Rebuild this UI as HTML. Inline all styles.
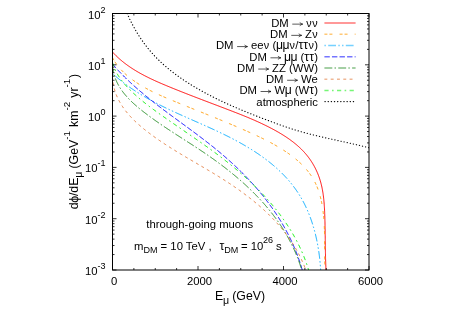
<!DOCTYPE html>
<html><head><meta charset="utf-8"><title>plot</title>
<style>html,body{margin:0;padding:0;background:#fff;width:450px;height:315px;overflow:hidden}
svg{position:absolute;left:0;top:0;font-family:"Liberation Sans",sans-serif;will-change:transform;transform:translateZ(0)}
text{fill:#000;white-space:pre}</style>
</head><body>
<svg width="450" height="315" viewBox="0 0 450 315">
<rect x="0" y="0" width="450" height="315" fill="#ffffff"/>
<defs><clipPath id="c"><rect x="112.5" y="13.5" width="256.5" height="256.5"/></clipPath></defs>
<g clip-path="url(#c)" fill="none" stroke-linecap="butt" stroke-linejoin="round">
<path d="M112.49,52.01 L113.07,52.65 L113.66,53.28 L114.25,53.90 L114.85,54.51 L115.45,55.12 L116.06,55.72 L116.67,56.31 L117.29,56.90 L117.91,57.48 L118.54,58.06 L119.17,58.63 L119.81,59.19 L120.45,59.75 L121.10,60.30 L121.75,60.84 L122.40,61.38 L123.06,61.92 L123.72,62.44 L124.39,62.97 L125.06,63.48 L125.74,63.99 L126.42,64.50 L127.10,65.00 L127.79,65.49 L128.48,65.98 L129.17,66.47 L129.87,66.95 L130.57,67.42 L131.28,67.89 L131.99,68.36 L132.70,68.82 L133.42,69.28 L134.13,69.73 L134.86,70.18 L135.58,70.62 L136.31,71.06 L137.04,71.49 L137.77,71.92 L138.51,72.35 L139.25,72.77 L139.99,73.19 L140.74,73.60 L141.49,74.01 L142.24,74.42 L142.99,74.82 L143.74,75.22 L144.50,75.62 L145.26,76.01 L146.02,76.40 L146.79,76.79 L147.55,77.17 L148.32,77.56 L149.09,77.93 L149.86,78.31 L150.64,78.68 L151.41,79.05 L152.19,79.41 L152.97,79.78 L153.75,80.14 L154.53,80.50 L155.31,80.86 L156.10,81.21 L156.88,81.56 L157.67,81.91 L158.46,82.26 L159.24,82.61 L160.03,82.95 L160.82,83.29 L161.62,83.63 L162.41,83.97 L163.20,84.31 L164.00,84.64 L164.79,84.98 L165.59,85.31 L166.38,85.64 L167.18,85.97 L167.97,86.30 L168.77,86.63 L169.57,86.96 L170.36,87.29 L171.16,87.61 L171.96,87.94 L172.76,88.26 L173.55,88.58 L174.35,88.91 L175.15,89.23 L175.95,89.55 L176.74,89.87 L177.54,90.19 L178.34,90.51 L179.14,90.83 L179.93,91.14 L180.73,91.46 L181.53,91.78 L182.33,92.09 L183.13,92.41 L183.92,92.72 L184.72,93.04 L185.52,93.35 L186.32,93.66 L187.12,93.97 L187.91,94.28 L188.71,94.60 L189.51,94.91 L190.31,95.22 L191.11,95.53 L191.90,95.83 L192.70,96.14 L193.50,96.45 L194.30,96.76 L195.10,97.07 L195.89,97.37 L196.69,97.68 L197.49,97.99 L198.29,98.29 L199.09,98.60 L199.88,98.90 L200.68,99.21 L201.48,99.51 L202.27,99.82 L203.07,100.12 L203.87,100.42 L204.67,100.73 L205.46,101.03 L206.26,101.33 L207.06,101.64 L207.85,101.94 L208.65,102.24 L209.45,102.55 L210.24,102.85 L211.04,103.15 L211.83,103.45 L212.63,103.75 L213.43,104.06 L214.22,104.36 L215.02,104.66 L215.81,104.96 L216.61,105.26 L217.40,105.57 L218.20,105.87 L218.99,106.17 L219.79,106.47 L220.58,106.77 L221.37,107.08 L222.17,107.38 L222.96,107.68 L223.75,107.98 L224.55,108.29 L225.34,108.59 L226.13,108.89 L226.92,109.19 L227.72,109.50 L228.51,109.80 L229.30,110.10 L230.09,110.41 L230.88,110.71 L231.67,111.02 L232.46,111.32 L233.25,111.63 L234.04,111.93 L234.83,112.24 L235.62,112.55 L236.41,112.85 L237.20,113.16 L237.99,113.47 L238.78,113.78 L239.57,114.10 L240.35,114.41 L241.14,114.72 L241.93,115.04 L242.72,115.35 L243.50,115.67 L244.29,115.99 L245.07,116.31 L245.86,116.63 L246.64,116.95 L247.43,117.28 L248.21,117.60 L249.00,117.93 L249.78,118.26 L250.56,118.59 L251.35,118.93 L252.13,119.26 L252.91,119.60 L253.69,119.94 L254.47,120.28 L255.25,120.63 L256.03,120.97 L256.81,121.32 L257.59,121.67 L258.37,122.02 L259.15,122.38 L259.93,122.74 L260.71,123.10 L261.49,123.46 L262.26,123.83 L263.04,124.20 L263.82,124.57 L264.59,124.95 L265.37,125.32 L266.14,125.70 L266.92,126.09 L267.69,126.48 L268.46,126.87 L269.23,127.26 L270.01,127.66 L270.78,128.06 L271.55,128.46 L272.32,128.87 L273.09,129.28 L273.86,129.70 L274.62,130.11 L275.39,130.54 L276.15,130.96 L276.92,131.39 L277.68,131.83 L278.44,132.26 L279.19,132.70 L279.95,133.15 L280.70,133.60 L281.45,134.05 L282.19,134.51 L282.94,134.97 L283.68,135.44 L284.41,135.91 L285.15,136.38 L285.88,136.86 L286.60,137.35 L287.33,137.83 L288.04,138.33 L288.76,138.82 L289.47,139.32 L290.17,139.83 L290.88,140.34 L291.57,140.86 L292.26,141.38 L292.95,141.90 L293.63,142.43 L294.31,142.97 L294.98,143.51 L295.64,144.05 L296.30,144.60 L296.96,145.16 L297.60,145.72 L298.24,146.29 L298.88,146.86 L299.51,147.43 L300.13,148.02 L300.74,148.60 L301.35,149.20 L301.95,149.79 L302.54,150.40 L303.13,151.01 L303.71,151.62 L304.28,152.24 L304.84,152.87 L305.39,153.50 L305.94,154.14 L306.48,154.79 L307.01,155.43 L307.53,156.09 L308.04,156.75 L308.55,157.41 L309.05,158.09 L309.54,158.76 L310.02,159.44 L310.49,160.13 L310.96,160.82 L311.41,161.52 L311.86,162.22 L312.30,162.92 L312.74,163.64 L313.16,164.35 L313.58,165.07 L313.99,165.80 L314.39,166.53 L314.78,167.26 L315.16,168.00 L315.54,168.74 L315.90,169.49 L316.26,170.24 L316.61,170.99 L316.95,171.75 L317.29,172.52 L317.61,173.28 L317.93,174.05 L318.23,174.83 L318.53,175.61 L318.82,176.39 L319.11,177.18 L319.38,177.97 L319.65,178.76 L319.90,179.56 L320.15,180.36 L320.39,181.16 L320.62,181.97 L320.84,182.78 L321.06,183.59 L321.27,184.41 L321.46,185.23 L321.65,186.05 L321.84,186.87 L322.01,187.70 L322.18,188.53 L322.34,189.37 L322.50,190.20 L322.64,191.04 L322.78,191.88 L322.92,192.72 L323.05,193.57 L323.17,194.41 L323.28,195.26 L323.40,196.11 L323.50,196.97 L323.60,197.82 L323.70,198.68 L323.79,199.53 L323.87,200.39 L323.95,201.26 L324.03,202.12 L324.10,202.98 L324.17,203.85 L324.23,204.71 L324.29,205.58 L324.35,206.45 L324.40,207.32 L324.45,208.19 L324.50,209.06 L324.55,209.93 L324.59,210.80 L324.63,211.68 L324.66,212.55 L324.70,213.43 L324.73,214.30 L324.76,215.17 L324.79,216.05 L324.82,216.92 L324.85,217.80 L324.87,218.68 L324.90,219.55 L324.92,220.43 L324.95,221.30 L324.97,222.18 L324.99,223.05 L325.01,223.92 L325.02,224.80 L325.04,225.67 L325.06,226.55 L325.08,227.42 L325.09,228.29 L325.11,229.17 L325.12,230.04 L325.13,230.91 L325.15,231.78 L325.16,232.66 L325.17,233.53 L325.18,234.40 L325.19,235.27 L325.20,236.14 L325.22,237.00 L325.23,237.87 L325.24,238.74 L325.25,239.60 L325.26,240.47 L325.27,241.33 L325.28,242.20 L325.29,243.06 L325.30,243.92 L325.31,244.78 L325.32,245.64 L325.34,246.50 L325.35,247.36 L325.36,248.22 L325.37,249.07 L325.39,249.92 L325.40,250.78 L325.42,251.63 L325.43,252.48 L325.45,253.33 L325.47,254.18 L325.48,255.02 L325.50,255.87 L325.52,256.71 L325.54,257.56 L325.56,258.40 L325.59,259.23 L325.61,260.07 L325.64,260.91 L325.66,261.74 L325.69,262.58 L325.72,263.41 L325.75,264.24 L325.78,265.06 L325.82,265.89 L325.85,266.71 L325.89,267.53 L325.92,268.35 L325.96,269.17 L326.01,269.99" stroke="#ff0000" stroke-width="0.97"/>
<path d="M112.46,57.53 L112.85,58.27 L113.26,59.00 L113.67,59.72 L114.09,60.43 L114.52,61.13 L114.96,61.83 L115.41,62.51 L115.87,63.20 L116.34,63.87 L116.82,64.53 L117.31,65.19 L117.81,65.84 L118.32,66.48 L118.83,67.12 L119.35,67.75 L119.88,68.37 L120.42,68.98 L120.97,69.59 L121.53,70.19 L122.09,70.78 L122.66,71.37 L123.24,71.95 L123.82,72.52 L124.41,73.09 L125.01,73.65 L125.62,74.20 L126.23,74.75 L126.84,75.30 L127.47,75.83 L128.10,76.36 L128.73,76.89 L129.37,77.40 L130.02,77.92 L130.67,78.42 L131.33,78.92 L131.99,79.42 L132.66,79.91 L133.33,80.40 L134.00,80.88 L134.68,81.35 L135.37,81.82 L136.05,82.28 L136.75,82.74 L137.44,83.20 L138.14,83.65 L138.84,84.10 L139.55,84.54 L140.26,84.97 L140.97,85.40 L141.68,85.83 L142.40,86.26 L143.12,86.67 L143.84,87.09 L144.57,87.50 L145.30,87.91 L146.03,88.31 L146.76,88.71 L147.50,89.11 L148.24,89.50 L148.98,89.89 L149.72,90.27 L150.47,90.65 L151.21,91.03 L151.96,91.41 L152.72,91.78 L153.47,92.15 L154.22,92.52 L154.98,92.88 L155.74,93.24 L156.50,93.60 L157.26,93.95 L158.02,94.31 L158.79,94.66 L159.55,95.01 L160.32,95.35 L161.09,95.69 L161.86,96.04 L162.63,96.37 L163.40,96.71 L164.17,97.05 L164.94,97.38 L165.71,97.71 L166.49,98.04 L167.26,98.37 L168.04,98.70 L168.81,99.02 L169.59,99.35 L170.36,99.67 L171.14,99.99 L171.91,100.31 L172.69,100.63 L173.46,100.95 L174.24,101.27 L175.02,101.59 L175.79,101.91 L176.57,102.22 L177.34,102.54 L178.11,102.85 L178.89,103.17 L179.66,103.48 L180.44,103.80 L181.21,104.11 L181.98,104.42 L182.75,104.73 L183.52,105.05 L184.30,105.36 L185.07,105.67 L185.84,105.98 L186.61,106.29 L187.38,106.60 L188.15,106.91 L188.92,107.22 L189.69,107.53 L190.46,107.84 L191.23,108.15 L192.00,108.45 L192.76,108.76 L193.53,109.07 L194.30,109.38 L195.07,109.69 L195.84,109.99 L196.60,110.30 L197.37,110.61 L198.14,110.92 L198.90,111.23 L199.67,111.53 L200.44,111.84 L201.20,112.15 L201.97,112.45 L202.73,112.76 L203.50,113.07 L204.27,113.38 L205.03,113.69 L205.80,113.99 L206.56,114.30 L207.33,114.61 L208.09,114.92 L208.86,115.23 L209.62,115.53 L210.39,115.84 L211.15,116.15 L211.91,116.46 L212.68,116.77 L213.44,117.08 L214.21,117.39 L214.97,117.70 L215.74,118.01 L216.50,118.32 L217.26,118.64 L218.03,118.95 L218.79,119.26 L219.55,119.57 L220.32,119.89 L221.08,120.20 L221.85,120.51 L222.61,120.83 L223.37,121.14 L224.14,121.46 L224.90,121.78 L225.66,122.09 L226.43,122.41 L227.19,122.73 L227.96,123.05 L228.72,123.37 L229.48,123.69 L230.25,124.01 L231.01,124.33 L231.78,124.65 L232.54,124.98 L233.30,125.30 L234.07,125.62 L234.83,125.95 L235.60,126.27 L236.36,126.60 L237.13,126.93 L237.89,127.26 L238.66,127.59 L239.42,127.92 L240.19,128.25 L240.95,128.58 L241.72,128.91 L242.48,129.25 L243.25,129.58 L244.01,129.92 L244.78,130.25 L245.55,130.59 L246.31,130.93 L247.08,131.27 L247.85,131.61 L248.61,131.96 L249.38,132.30 L250.15,132.64 L250.91,132.99 L251.68,133.34 L252.45,133.69 L253.21,134.04 L253.98,134.39 L254.74,134.74 L255.51,135.10 L256.27,135.45 L257.04,135.81 L257.80,136.17 L258.56,136.53 L259.33,136.90 L260.09,137.26 L260.85,137.63 L261.61,138.00 L262.36,138.37 L263.12,138.75 L263.88,139.12 L264.63,139.50 L265.39,139.88 L266.14,140.26 L266.89,140.65 L267.64,141.03 L268.39,141.42 L269.14,141.82 L269.88,142.21 L270.63,142.61 L271.37,143.01 L272.11,143.41 L272.85,143.82 L273.58,144.23 L274.32,144.64 L275.05,145.05 L275.78,145.47 L276.51,145.89 L277.24,146.31 L277.96,146.74 L278.68,147.17 L279.40,147.60 L280.12,148.04 L280.83,148.47 L281.54,148.92 L282.25,149.36 L282.96,149.81 L283.66,150.27 L284.37,150.72 L285.06,151.18 L285.76,151.65 L286.45,152.11 L287.14,152.58 L287.83,153.06 L288.51,153.54 L289.19,154.02 L289.87,154.51 L290.54,155.00 L291.21,155.49 L291.87,155.99 L292.53,156.49 L293.19,157.00 L293.84,157.51 L294.49,158.03 L295.14,158.55 L295.77,159.07 L296.41,159.60 L297.04,160.13 L297.66,160.67 L298.28,161.21 L298.89,161.76 L299.50,162.31 L300.10,162.87 L300.70,163.43 L301.29,164.00 L301.87,164.57 L302.45,165.14 L303.02,165.73 L303.59,166.31 L304.15,166.90 L304.70,167.50 L305.25,168.10 L305.78,168.71 L306.32,169.32 L306.84,169.94 L307.36,170.56 L307.86,171.19 L308.37,171.82 L308.86,172.46 L309.34,173.11 L309.82,173.76 L310.29,174.42 L310.75,175.08 L311.20,175.75 L311.65,176.42 L312.08,177.10 L312.51,177.78 L312.93,178.48 L313.33,179.17 L313.73,179.88 L314.12,180.59 L314.50,181.30 L314.87,182.03 L315.23,182.75 L315.59,183.49 L315.93,184.23 L316.27,184.97 L316.59,185.72 L316.91,186.48 L317.22,187.24 L317.52,188.00 L317.81,188.77 L318.09,189.54 L318.37,190.32 L318.64,191.10 L318.90,191.89 L319.15,192.68 L319.40,193.48 L319.63,194.27 L319.86,195.08 L320.09,195.88 L320.30,196.69 L320.51,197.50 L320.71,198.31 L320.91,199.13 L321.10,199.95 L321.28,200.77 L321.45,201.60 L321.62,202.43 L321.79,203.26 L321.94,204.09 L322.10,204.92 L322.24,205.76 L322.38,206.59 L322.51,207.43 L322.64,208.27 L322.77,209.11 L322.88,209.95 L323.00,210.80 L323.10,211.64 L323.21,212.48 L323.31,213.33 L323.40,214.17 L323.49,215.02 L323.57,215.86 L323.65,216.71 L323.73,217.55 L323.80,218.40 L323.87,219.24 L323.93,220.09 L323.99,220.93 L324.05,221.77 L324.10,222.62 L324.15,223.46 L324.19,224.31 L324.24,225.15 L324.28,226.00 L324.31,226.84 L324.35,227.68 L324.38,228.53 L324.41,229.37 L324.43,230.21 L324.46,231.05 L324.48,231.90 L324.50,232.74 L324.51,233.58 L324.53,234.42 L324.54,235.26 L324.55,236.10 L324.56,236.94 L324.57,237.78 L324.58,238.62 L324.58,239.46 L324.59,240.30 L324.59,241.14 L324.60,241.97 L324.60,242.81 L324.60,243.65 L324.60,244.48 L324.60,245.32 L324.60,246.15 L324.60,246.98 L324.60,247.82 L324.60,248.65 L324.60,249.48 L324.60,250.31 L324.60,251.14 L324.60,251.97 L324.61,252.80 L324.61,253.63 L324.61,254.45 L324.62,255.28 L324.62,256.11 L324.63,256.93 L324.64,257.75 L324.65,258.58 L324.66,259.40 L324.67,260.22 L324.68,261.04 L324.70,261.86 L324.72,262.68 L324.74,263.49 L324.76,264.31 L324.78,265.12 L324.81,265.94 L324.84,266.75 L324.87,267.56 L324.91,268.37 L324.95,269.18 L324.99,269.99" stroke="#ff9900" stroke-width="0.97" stroke-dasharray="3,2,3,7.15"/>
<path d="M112.49,73.48 L113.07,74.01 L113.65,74.53 L114.23,75.05 L114.82,75.56 L115.40,76.08 L115.99,76.59 L116.58,77.09 L117.17,77.59 L117.76,78.09 L118.36,78.59 L118.95,79.08 L119.55,79.57 L120.15,80.05 L120.75,80.54 L121.35,81.02 L121.96,81.49 L122.56,81.96 L123.17,82.43 L123.78,82.90 L124.39,83.36 L125.00,83.83 L125.62,84.28 L126.23,84.74 L126.85,85.19 L127.47,85.64 L128.09,86.08 L128.71,86.53 L129.33,86.97 L129.96,87.41 L130.58,87.84 L131.21,88.27 L131.84,88.70 L132.47,89.13 L133.10,89.55 L133.73,89.98 L134.36,90.39 L135.00,90.81 L135.64,91.22 L136.27,91.64 L136.91,92.05 L137.55,92.45 L138.19,92.86 L138.84,93.26 L139.48,93.66 L140.13,94.06 L140.77,94.45 L141.42,94.84 L142.07,95.23 L142.72,95.62 L143.37,96.01 L144.02,96.39 L144.68,96.77 L145.33,97.15 L145.99,97.53 L146.64,97.91 L147.30,98.28 L147.96,98.65 L148.62,99.02 L149.28,99.39 L149.94,99.76 L150.60,100.12 L151.27,100.48 L151.93,100.84 L152.60,101.20 L153.27,101.56 L153.93,101.92 L154.60,102.27 L155.27,102.62 L155.94,102.97 L156.61,103.32 L157.28,103.67 L157.96,104.02 L158.63,104.36 L159.31,104.70 L159.98,105.05 L160.66,105.39 L161.33,105.72 L162.01,106.06 L162.69,106.40 L163.37,106.73 L164.05,107.07 L164.73,107.40 L165.41,107.73 L166.09,108.06 L166.78,108.39 L167.46,108.72 L168.14,109.05 L168.83,109.37 L169.51,109.70 L170.20,110.02 L170.89,110.34 L171.57,110.66 L172.26,110.99 L172.95,111.31 L173.64,111.63 L174.33,111.94 L175.02,112.26 L175.71,112.58 L176.40,112.89 L177.09,113.21 L177.78,113.53 L178.47,113.84 L179.16,114.15 L179.86,114.47 L180.55,114.78 L181.24,115.09 L181.94,115.40 L182.63,115.71 L183.33,116.02 L184.02,116.33 L184.72,116.64 L185.41,116.95 L186.11,117.26 L186.80,117.57 L187.50,117.88 L188.20,118.19 L188.89,118.50 L189.59,118.81 L190.29,119.11 L190.98,119.42 L191.68,119.73 L192.38,120.04 L193.08,120.34 L193.78,120.65 L194.47,120.96 L195.17,121.27 L195.87,121.58 L196.57,121.88 L197.27,122.19 L197.97,122.50 L198.67,122.81 L199.36,123.12 L200.06,123.43 L200.76,123.74 L201.46,124.05 L202.16,124.36 L202.86,124.67 L203.56,124.98 L204.25,125.29 L204.95,125.60 L205.65,125.91 L206.35,126.23 L207.05,126.54 L207.74,126.86 L208.44,127.17 L209.14,127.49 L209.84,127.80 L210.53,128.12 L211.23,128.44 L211.93,128.75 L212.62,129.07 L213.32,129.39 L214.02,129.71 L214.71,130.04 L215.41,130.36 L216.10,130.68 L216.80,131.01 L217.49,131.33 L218.19,131.66 L218.88,131.99 L219.57,132.31 L220.27,132.64 L220.96,132.98 L221.65,133.31 L222.34,133.64 L223.03,133.98 L223.73,134.31 L224.42,134.65 L225.11,134.99 L225.80,135.33 L226.48,135.67 L227.17,136.01 L227.86,136.36 L228.55,136.70 L229.23,137.05 L229.92,137.40 L230.61,137.75 L231.29,138.10 L231.98,138.45 L232.66,138.81 L233.34,139.17 L234.02,139.52 L234.71,139.88 L235.39,140.25 L236.07,140.61 L236.75,140.98 L237.43,141.34 L238.10,141.71 L238.78,142.08 L239.46,142.46 L240.13,142.83 L240.81,143.21 L241.48,143.59 L242.16,143.97 L242.83,144.35 L243.50,144.74 L244.17,145.13 L244.84,145.51 L245.51,145.91 L246.17,146.30 L246.84,146.69 L247.50,147.09 L248.16,147.49 L248.83,147.89 L249.49,148.29 L250.15,148.70 L250.80,149.11 L251.46,149.52 L252.11,149.93 L252.77,150.34 L253.42,150.76 L254.07,151.18 L254.72,151.60 L255.36,152.02 L256.01,152.44 L256.65,152.87 L257.29,153.30 L257.93,153.73 L258.57,154.16 L259.20,154.60 L259.84,155.04 L260.47,155.48 L261.10,155.92 L261.73,156.36 L262.35,156.81 L262.98,157.26 L263.60,157.71 L264.22,158.17 L264.84,158.62 L265.45,159.08 L266.06,159.54 L266.67,160.00 L267.28,160.47 L267.89,160.94 L268.49,161.41 L269.09,161.88 L269.69,162.35 L270.28,162.83 L270.88,163.31 L271.47,163.79 L272.06,164.28 L272.64,164.76 L273.22,165.25 L273.80,165.75 L274.38,166.24 L274.95,166.74 L275.53,167.24 L276.09,167.74 L276.66,168.24 L277.22,168.75 L277.78,169.26 L278.34,169.77 L278.89,170.28 L279.44,170.80 L279.99,171.32 L280.53,171.84 L281.07,172.37 L281.61,172.89 L282.14,173.42 L282.67,173.96 L283.20,174.49 L283.72,175.03 L284.25,175.57 L284.76,176.11 L285.28,176.66 L285.79,177.21 L286.29,177.76 L286.80,178.31 L287.30,178.87 L287.79,179.43 L288.29,179.99 L288.78,180.55 L289.26,181.12 L289.74,181.69 L290.22,182.26 L290.70,182.84 L291.17,183.42 L291.64,184.00 L292.10,184.58 L292.56,185.17 L293.02,185.76 L293.47,186.35 L293.92,186.95 L294.36,187.55 L294.80,188.15 L295.24,188.75 L295.67,189.36 L296.10,189.97 L296.53,190.58 L296.95,191.19 L297.37,191.81 L297.78,192.43 L298.19,193.06 L298.60,193.69 L299.00,194.32 L299.39,194.95 L299.79,195.59 L300.18,196.22 L300.56,196.87 L300.94,197.51 L301.32,198.16 L301.69,198.81 L302.06,199.46 L302.42,200.12 L302.78,200.78 L303.14,201.44 L303.49,202.11 L303.84,202.78 L304.19,203.45 L304.53,204.12 L304.86,204.79 L305.19,205.47 L305.52,206.15 L305.85,206.84 L306.17,207.52 L306.48,208.21 L306.80,208.90 L307.10,209.59 L307.41,210.29 L307.71,210.98 L308.01,211.68 L308.30,212.38 L308.59,213.09 L308.88,213.79 L309.16,214.50 L309.44,215.21 L309.71,215.92 L309.98,216.64 L310.25,217.35 L310.51,218.07 L310.77,218.79 L311.03,219.51 L311.28,220.23 L311.53,220.96 L311.77,221.68 L312.02,222.41 L312.25,223.14 L312.49,223.87 L312.72,224.60 L312.95,225.34 L313.17,226.07 L313.39,226.81 L313.61,227.55 L313.82,228.29 L314.03,229.03 L314.24,229.77 L314.44,230.52 L314.64,231.26 L314.84,232.01 L315.03,232.76 L315.22,233.51 L315.41,234.25 L315.59,235.01 L315.77,235.76 L315.94,236.51 L316.12,237.26 L316.29,238.02 L316.45,238.77 L316.62,239.53 L316.78,240.29 L316.93,241.04 L317.09,241.80 L317.24,242.56 L317.39,243.32 L317.53,244.08 L317.67,244.84 L317.81,245.60 L317.94,246.36 L318.08,247.13 L318.20,247.89 L318.33,248.65 L318.45,249.42 L318.57,250.18 L318.69,250.94 L318.80,251.71 L318.91,252.47 L319.02,253.24 L319.12,254.00 L319.23,254.77 L319.33,255.53 L319.42,256.30 L319.51,257.06 L319.60,257.83 L319.69,258.59 L319.78,259.36 L319.86,260.12 L319.94,260.88 L320.01,261.65 L320.09,262.41 L320.16,263.18 L320.23,263.94 L320.29,264.70 L320.35,265.46 L320.41,266.22 L320.47,266.99 L320.52,267.75 L320.58,268.51 L320.62,269.27 L320.67,270.03" stroke="#00aaff" stroke-width="0.97" stroke-dasharray="1.5,2.3,7.8,2.3,1.5,2.2"/>
<path d="M112.45,64.05 L112.92,64.59 L113.40,65.13 L113.87,65.67 L114.34,66.20 L114.82,66.74 L115.30,67.27 L115.78,67.80 L116.26,68.33 L116.74,68.86 L117.22,69.38 L117.71,69.91 L118.20,70.43 L118.69,70.95 L119.18,71.47 L119.67,71.98 L120.16,72.50 L120.66,73.01 L121.15,73.52 L121.65,74.03 L122.15,74.54 L122.65,75.05 L123.15,75.56 L123.66,76.06 L124.16,76.56 L124.67,77.06 L125.18,77.56 L125.69,78.06 L126.20,78.56 L126.71,79.05 L127.22,79.54 L127.73,80.03 L128.25,80.52 L128.77,81.01 L129.29,81.50 L129.80,81.99 L130.33,82.47 L130.85,82.96 L131.37,83.44 L131.89,83.92 L132.42,84.40 L132.95,84.88 L133.47,85.35 L134.00,85.83 L134.53,86.30 L135.06,86.77 L135.60,87.25 L136.13,87.72 L136.66,88.19 L137.20,88.65 L137.73,89.12 L138.27,89.59 L138.81,90.05 L139.35,90.52 L139.89,90.98 L140.43,91.44 L140.97,91.90 L141.52,92.36 L142.06,92.82 L142.61,93.27 L143.15,93.73 L143.70,94.19 L144.25,94.64 L144.80,95.09 L145.35,95.55 L145.90,96.00 L146.45,96.45 L147.00,96.90 L147.55,97.34 L148.11,97.79 L148.66,98.24 L149.22,98.69 L149.78,99.13 L150.33,99.58 L150.89,100.02 L151.45,100.46 L152.01,100.90 L152.57,101.35 L153.13,101.79 L153.69,102.23 L154.25,102.66 L154.81,103.10 L155.38,103.54 L155.94,103.98 L156.50,104.41 L157.07,104.85 L157.63,105.29 L158.20,105.72 L158.77,106.15 L159.33,106.59 L159.90,107.02 L160.47,107.45 L161.04,107.88 L161.61,108.32 L162.18,108.75 L162.75,109.18 L163.32,109.61 L163.89,110.04 L164.46,110.47 L165.03,110.89 L165.60,111.32 L166.18,111.75 L166.75,112.18 L167.32,112.61 L167.90,113.03 L168.47,113.46 L169.04,113.88 L169.62,114.31 L170.19,114.74 L170.77,115.16 L171.34,115.59 L171.92,116.01 L172.49,116.44 L173.07,116.86 L173.65,117.28 L174.22,117.71 L174.80,118.13 L175.38,118.56 L175.95,118.98 L176.53,119.40 L177.11,119.83 L177.69,120.25 L178.26,120.67 L178.84,121.10 L179.42,121.52 L180.00,121.94 L180.57,122.37 L181.15,122.79 L181.73,123.21 L182.31,123.63 L182.88,124.06 L183.46,124.48 L184.04,124.91 L184.62,125.33 L185.20,125.75 L185.77,126.18 L186.35,126.60 L186.93,127.02 L187.51,127.45 L188.08,127.87 L188.66,128.30 L189.24,128.72 L189.81,129.15 L190.39,129.57 L190.97,130.00 L191.54,130.42 L192.12,130.85 L192.69,131.28 L193.27,131.70 L193.85,132.13 L194.42,132.56 L195.00,132.99 L195.57,133.42 L196.14,133.84 L196.72,134.27 L197.29,134.70 L197.86,135.13 L198.44,135.56 L199.01,135.99 L199.58,136.43 L200.15,136.86 L200.73,137.29 L201.30,137.72 L201.87,138.16 L202.44,138.59 L203.01,139.03 L203.58,139.46 L204.14,139.90 L204.71,140.33 L205.28,140.77 L205.85,141.21 L206.41,141.65 L206.98,142.09 L207.54,142.53 L208.11,142.97 L208.67,143.41 L209.24,143.85 L209.80,144.30 L210.36,144.74 L210.92,145.19 L211.49,145.63 L212.05,146.08 L212.61,146.52 L213.16,146.97 L213.72,147.42 L214.28,147.87 L214.84,148.32 L215.39,148.77 L215.95,149.23 L216.50,149.68 L217.06,150.13 L217.61,150.59 L218.16,151.05 L218.71,151.50 L219.26,151.96 L219.81,152.42 L220.36,152.88 L220.91,153.34 L221.46,153.81 L222.00,154.27 L222.55,154.74 L223.09,155.20 L223.64,155.67 L224.18,156.14 L224.72,156.60 L225.26,157.07 L225.80,157.55 L226.34,158.02 L226.88,158.49 L227.42,158.96 L227.95,159.44 L228.49,159.91 L229.02,160.39 L229.56,160.87 L230.09,161.35 L230.62,161.83 L231.15,162.31 L231.68,162.79 L232.21,163.28 L232.73,163.76 L233.26,164.25 L233.78,164.73 L234.31,165.22 L234.83,165.71 L235.35,166.20 L235.87,166.69 L236.39,167.18 L236.91,167.67 L237.43,168.17 L237.95,168.66 L238.46,169.16 L238.97,169.66 L239.49,170.16 L240.00,170.66 L240.51,171.16 L241.02,171.66 L241.53,172.16 L242.03,172.66 L242.54,173.17 L243.04,173.67 L243.55,174.18 L244.05,174.69 L244.55,175.20 L245.05,175.71 L245.55,176.22 L246.04,176.73 L246.54,177.25 L247.03,177.76 L247.53,178.28 L248.02,178.80 L248.51,179.31 L249.00,179.83 L249.49,180.35 L249.97,180.87 L250.46,181.40 L250.94,181.92 L251.42,182.45 L251.91,182.97 L252.39,183.50 L252.86,184.03 L253.34,184.56 L253.82,185.09 L254.29,185.62 L254.76,186.15 L255.23,186.69 L255.70,187.22 L256.17,187.76 L256.64,188.29 L257.11,188.83 L257.57,189.37 L258.03,189.91 L258.49,190.46 L258.95,191.00 L259.41,191.54 L259.87,192.09 L260.32,192.64 L260.78,193.18 L261.23,193.73 L261.68,194.28 L262.13,194.83 L262.58,195.39 L263.02,195.94 L263.47,196.50 L263.91,197.05 L264.35,197.61 L264.79,198.17 L265.23,198.73 L265.66,199.29 L266.10,199.85 L266.53,200.41 L266.96,200.98 L267.39,201.54 L267.82,202.11 L268.25,202.68 L268.67,203.25 L269.10,203.82 L269.52,204.39 L269.94,204.96 L270.35,205.53 L270.77,206.11 L271.19,206.69 L271.60,207.26 L272.01,207.84 L272.42,208.42 L272.83,209.00 L273.23,209.59 L273.64,210.17 L274.04,210.75 L274.44,211.34 L274.84,211.93 L275.23,212.52 L275.63,213.11 L276.02,213.70 L276.41,214.29 L276.80,214.88 L277.19,215.48 L277.58,216.07 L277.96,216.67 L278.34,217.27 L278.72,217.87 L279.10,218.47 L279.48,219.07 L279.85,219.68 L280.22,220.28 L280.59,220.89 L280.96,221.49 L281.33,222.10 L281.69,222.71 L282.06,223.32 L282.42,223.94 L282.78,224.55 L283.13,225.16 L283.49,225.78 L283.84,226.40 L284.19,227.02 L284.54,227.64 L284.89,228.26 L285.23,228.88 L285.57,229.50 L285.91,230.13 L286.25,230.75 L286.59,231.38 L286.92,232.01 L287.25,232.64 L287.58,233.27 L287.91,233.91 L288.24,234.54 L288.56,235.17 L288.88,235.81 L289.20,236.45 L289.52,237.09 L289.84,237.73 L290.15,238.37 L290.46,239.01 L290.77,239.66 L291.08,240.30 L291.38,240.95 L291.68,241.60 L291.98,242.25 L292.28,242.90 L292.57,243.55 L292.87,244.21 L293.16,244.86 L293.45,245.52 L293.73,246.18 L294.02,246.84 L294.30,247.50 L294.58,248.16 L294.86,248.82 L295.13,249.49 L295.40,250.15 L295.67,250.82 L295.94,251.49 L296.21,252.16 L296.47,252.83 L296.73,253.50 L296.99,254.17 L297.25,254.85 L297.50,255.53 L297.75,256.20 L298.00,256.88 L298.25,257.56 L298.49,258.25 L298.73,258.93 L298.97,259.61 L299.21,260.30 L299.44,260.99 L299.67,261.68 L299.90,262.37 L300.13,263.06 L300.35,263.75 L300.58,264.45 L300.80,265.14 L301.01,265.84 L301.23,266.54 L301.44,267.24 L301.65,267.94 L301.85,268.64 L302.06,269.35 L302.26,270.05" stroke="#0000ff" stroke-width="0.97" stroke-dasharray="5.4,2.16"/>
<path d="M112.49,65.00 L112.54,65.77 L112.61,66.52 L112.68,67.28 L112.77,68.02 L112.87,68.76 L112.98,69.49 L113.10,70.22 L113.24,70.95 L113.38,71.66 L113.53,72.37 L113.70,73.08 L113.87,73.78 L114.06,74.48 L114.25,75.16 L114.46,75.85 L114.68,76.53 L114.90,77.20 L115.14,77.87 L115.38,78.53 L115.64,79.19 L115.90,79.85 L116.17,80.49 L116.45,81.14 L116.74,81.78 L117.04,82.41 L117.35,83.04 L117.66,83.66 L117.99,84.28 L118.32,84.90 L118.66,85.51 L119.01,86.11 L119.37,86.72 L119.73,87.31 L120.10,87.91 L120.48,88.49 L120.86,89.08 L121.26,89.66 L121.66,90.24 L122.06,90.81 L122.48,91.38 L122.90,91.94 L123.32,92.50 L123.76,93.06 L124.20,93.61 L124.64,94.16 L125.09,94.70 L125.55,95.24 L126.01,95.78 L126.48,96.32 L126.95,96.85 L127.43,97.37 L127.91,97.90 L128.40,98.42 L128.90,98.93 L129.39,99.45 L129.90,99.96 L130.40,100.47 L130.92,100.97 L131.43,101.47 L131.95,101.97 L132.47,102.47 L133.00,102.96 L133.53,103.45 L134.07,103.94 L134.60,104.42 L135.15,104.90 L135.69,105.38 L136.24,105.86 L136.79,106.33 L137.34,106.80 L137.89,107.27 L138.45,107.74 L139.01,108.21 L139.57,108.67 L140.14,109.13 L140.70,109.59 L141.27,110.04 L141.84,110.50 L142.41,110.95 L142.98,111.40 L143.56,111.85 L144.13,112.29 L144.71,112.74 L145.29,113.18 L145.86,113.62 L146.44,114.06 L147.02,114.50 L147.60,114.93 L148.18,115.37 L148.76,115.80 L149.34,116.23 L149.93,116.66 L150.51,117.09 L151.09,117.52 L151.68,117.94 L152.26,118.37 L152.85,118.79 L153.44,119.21 L154.03,119.63 L154.61,120.05 L155.20,120.47 L155.79,120.88 L156.38,121.30 L156.97,121.71 L157.56,122.12 L158.16,122.54 L158.75,122.95 L159.34,123.36 L159.94,123.76 L160.53,124.17 L161.12,124.58 L161.72,124.98 L162.31,125.39 L162.91,125.79 L163.51,126.19 L164.10,126.59 L164.70,126.99 L165.30,127.39 L165.90,127.79 L166.49,128.19 L167.09,128.59 L167.69,128.98 L168.29,129.38 L168.89,129.78 L169.49,130.17 L170.09,130.56 L170.69,130.96 L171.29,131.35 L171.90,131.74 L172.50,132.13 L173.10,132.53 L173.70,132.92 L174.30,133.31 L174.90,133.70 L175.51,134.09 L176.11,134.48 L176.71,134.87 L177.32,135.25 L177.92,135.64 L178.52,136.03 L179.13,136.42 L179.73,136.81 L180.33,137.19 L180.94,137.58 L181.54,137.97 L182.14,138.36 L182.75,138.74 L183.35,139.13 L183.95,139.52 L184.56,139.91 L185.16,140.29 L185.76,140.68 L186.37,141.07 L186.97,141.45 L187.57,141.84 L188.18,142.23 L188.78,142.62 L189.38,143.01 L189.99,143.40 L190.59,143.78 L191.19,144.17 L191.80,144.56 L192.40,144.95 L193.00,145.34 L193.60,145.73 L194.20,146.12 L194.80,146.52 L195.41,146.91 L196.01,147.30 L196.61,147.69 L197.21,148.09 L197.81,148.48 L198.41,148.88 L199.01,149.27 L199.61,149.67 L200.20,150.07 L200.80,150.46 L201.40,150.86 L202.00,151.26 L202.60,151.66 L203.19,152.06 L203.79,152.46 L204.38,152.87 L204.98,153.27 L205.58,153.68 L206.17,154.08 L206.76,154.49 L207.36,154.89 L207.95,155.30 L208.54,155.71 L209.13,156.12 L209.73,156.54 L210.32,156.95 L210.91,157.36 L211.50,157.78 L212.08,158.19 L212.67,158.61 L213.26,159.03 L213.85,159.45 L214.43,159.87 L215.02,160.29 L215.60,160.71 L216.19,161.14 L216.77,161.56 L217.36,161.99 L217.94,162.41 L218.52,162.84 L219.10,163.27 L219.68,163.70 L220.26,164.13 L220.84,164.57 L221.41,165.00 L221.99,165.43 L222.57,165.87 L223.14,166.31 L223.72,166.75 L224.29,167.19 L224.86,167.63 L225.43,168.07 L226.00,168.51 L226.57,168.96 L227.14,169.40 L227.71,169.85 L228.28,170.30 L228.84,170.74 L229.41,171.19 L229.97,171.65 L230.54,172.10 L231.10,172.55 L231.66,173.01 L232.22,173.46 L232.78,173.92 L233.34,174.38 L233.89,174.84 L234.45,175.30 L235.00,175.76 L235.56,176.23 L236.11,176.69 L236.66,177.16 L237.21,177.62 L237.76,178.09 L238.31,178.56 L238.85,179.03 L239.40,179.50 L239.94,179.98 L240.49,180.45 L241.03,180.93 L241.57,181.40 L242.11,181.88 L242.64,182.36 L243.18,182.84 L243.72,183.33 L244.25,183.81 L244.78,184.29 L245.31,184.78 L245.85,185.27 L246.37,185.76 L246.90,186.25 L247.43,186.74 L247.95,187.23 L248.47,187.72 L249.00,188.22 L249.52,188.72 L250.04,189.21 L250.55,189.71 L251.07,190.21 L251.58,190.71 L252.10,191.22 L252.61,191.72 L253.12,192.23 L253.63,192.74 L254.13,193.24 L254.64,193.75 L255.14,194.27 L255.65,194.78 L256.15,195.29 L256.65,195.81 L257.14,196.32 L257.64,196.84 L258.13,197.36 L258.63,197.88 L259.12,198.40 L259.61,198.93 L260.09,199.45 L260.58,199.98 L261.06,200.51 L261.55,201.04 L262.03,201.57 L262.51,202.10 L262.98,202.63 L263.46,203.17 L263.93,203.70 L264.40,204.24 L264.87,204.78 L265.34,205.32 L265.81,205.86 L266.27,206.41 L266.74,206.95 L267.20,207.50 L267.66,208.04 L268.11,208.59 L268.57,209.14 L269.02,209.70 L269.47,210.25 L269.92,210.81 L270.37,211.36 L270.82,211.92 L271.26,212.48 L271.70,213.04 L272.14,213.60 L272.58,214.17 L273.01,214.73 L273.45,215.30 L273.88,215.87 L274.31,216.44 L274.74,217.01 L275.16,217.58 L275.58,218.16 L276.00,218.73 L276.42,219.31 L276.84,219.89 L277.25,220.47 L277.67,221.05 L278.08,221.63 L278.49,222.22 L278.89,222.81 L279.30,223.39 L279.70,223.98 L280.10,224.57 L280.49,225.17 L280.89,225.76 L281.28,226.36 L281.67,226.96 L282.06,227.55 L282.44,228.15 L282.83,228.76 L283.21,229.36 L283.59,229.97 L283.96,230.57 L284.34,231.18 L284.71,231.79 L285.08,232.40 L285.44,233.02 L285.81,233.63 L286.17,234.25 L286.53,234.87 L286.89,235.49 L287.24,236.11 L287.59,236.73 L287.94,237.36 L288.29,237.98 L288.64,238.61 L288.98,239.24 L289.32,239.87 L289.65,240.50 L289.99,241.14 L290.32,241.77 L290.65,242.41 L290.98,243.05 L291.30,243.69 L291.62,244.34 L291.94,244.98 L292.26,245.63 L292.57,246.27 L292.88,246.92 L293.19,247.57 L293.49,248.23 L293.80,248.88 L294.10,249.54 L294.39,250.20 L294.69,250.86 L294.98,251.52 L295.27,252.18 L295.56,252.84 L295.84,253.51 L296.12,254.18 L296.40,254.85 L296.67,255.52 L296.95,256.19 L297.21,256.87 L297.48,257.55 L297.74,258.22 L298.01,258.90 L298.26,259.59 L298.52,260.27 L298.77,260.96 L299.02,261.64 L299.27,262.33 L299.51,263.02 L299.75,263.71 L299.99,264.41 L300.22,265.11 L300.45,265.80 L300.68,266.50 L300.90,267.20 L301.13,267.91 L301.34,268.61 L301.56,269.32 L301.77,270.03" stroke="#228b22" stroke-width="0.97" stroke-dasharray="7.9,2.2,1.5,2.25"/>
<path d="M112.47,76.03 L112.49,76.77 L112.52,77.52 L112.57,78.26 L112.62,78.99 L112.68,79.72 L112.75,80.45 L112.83,81.17 L112.92,81.89 L113.02,82.60 L113.13,83.31 L113.25,84.02 L113.37,84.72 L113.51,85.41 L113.65,86.11 L113.80,86.80 L113.96,87.48 L114.13,88.16 L114.31,88.84 L114.50,89.51 L114.69,90.18 L114.89,90.85 L115.10,91.51 L115.32,92.17 L115.55,92.82 L115.78,93.47 L116.02,94.12 L116.27,94.76 L116.53,95.40 L116.79,96.03 L117.06,96.66 L117.34,97.29 L117.63,97.91 L117.92,98.53 L118.22,99.15 L118.53,99.76 L118.84,100.37 L119.16,100.98 L119.49,101.58 L119.82,102.18 L120.16,102.78 L120.51,103.37 L120.86,103.96 L121.22,104.54 L121.58,105.12 L121.96,105.70 L122.33,106.28 L122.72,106.85 L123.10,107.42 L123.50,107.99 L123.90,108.55 L124.31,109.11 L124.72,109.66 L125.13,110.22 L125.56,110.77 L125.98,111.32 L126.42,111.86 L126.85,112.40 L127.30,112.94 L127.74,113.47 L128.19,114.01 L128.65,114.53 L129.11,115.06 L129.58,115.58 L130.05,116.10 L130.52,116.62 L131.00,117.14 L131.49,117.65 L131.97,118.16 L132.47,118.67 L132.96,119.17 L133.46,119.67 L133.96,120.17 L134.47,120.66 L134.98,121.16 L135.49,121.65 L136.01,122.14 L136.53,122.62 L137.06,123.11 L137.58,123.59 L138.11,124.07 L138.65,124.54 L139.18,125.01 L139.72,125.49 L140.26,125.95 L140.81,126.42 L141.35,126.89 L141.90,127.35 L142.46,127.81 L143.01,128.26 L143.57,128.72 L144.12,129.17 L144.68,129.62 L145.25,130.07 L145.81,130.52 L146.38,130.96 L146.95,131.41 L147.52,131.85 L148.09,132.28 L148.66,132.72 L149.23,133.15 L149.81,133.59 L150.39,134.02 L150.96,134.45 L151.54,134.87 L152.12,135.30 L152.70,135.72 L153.29,136.14 L153.87,136.56 L154.45,136.98 L155.04,137.40 L155.62,137.81 L156.21,138.22 L156.79,138.64 L157.38,139.04 L157.97,139.45 L158.56,139.86 L159.14,140.26 L159.73,140.67 L160.33,141.07 L160.92,141.47 L161.51,141.87 L162.10,142.27 L162.69,142.66 L163.29,143.06 L163.88,143.45 L164.48,143.84 L165.07,144.23 L165.67,144.62 L166.27,145.01 L166.87,145.40 L167.46,145.78 L168.06,146.17 L168.66,146.55 L169.26,146.94 L169.86,147.32 L170.46,147.70 L171.06,148.08 L171.66,148.45 L172.27,148.83 L172.87,149.21 L173.47,149.58 L174.08,149.96 L174.68,150.33 L175.28,150.70 L175.89,151.08 L176.49,151.45 L177.10,151.82 L177.71,152.19 L178.31,152.55 L178.92,152.92 L179.52,153.29 L180.13,153.66 L180.74,154.02 L181.35,154.39 L181.96,154.75 L182.56,155.12 L183.17,155.48 L183.78,155.84 L184.39,156.21 L185.00,156.57 L185.61,156.93 L186.22,157.29 L186.83,157.65 L187.44,158.01 L188.05,158.37 L188.66,158.73 L189.27,159.09 L189.88,159.45 L190.49,159.81 L191.10,160.17 L191.71,160.52 L192.32,160.88 L192.94,161.24 L193.55,161.60 L194.16,161.96 L194.77,162.31 L195.38,162.67 L195.99,163.03 L196.60,163.39 L197.21,163.74 L197.83,164.10 L198.44,164.46 L199.05,164.82 L199.66,165.17 L200.27,165.53 L200.88,165.89 L201.49,166.25 L202.10,166.61 L202.72,166.97 L203.33,167.32 L203.94,167.68 L204.55,168.04 L205.16,168.40 L205.77,168.76 L206.38,169.12 L206.99,169.48 L207.60,169.85 L208.21,170.21 L208.82,170.57 L209.42,170.93 L210.03,171.30 L210.64,171.66 L211.25,172.03 L211.86,172.39 L212.47,172.76 L213.07,173.12 L213.68,173.49 L214.29,173.86 L214.89,174.23 L215.50,174.60 L216.10,174.97 L216.71,175.34 L217.31,175.71 L217.92,176.08 L218.52,176.45 L219.13,176.83 L219.73,177.20 L220.33,177.58 L220.93,177.96 L221.54,178.34 L222.14,178.71 L222.74,179.10 L223.34,179.48 L223.94,179.86 L224.54,180.24 L225.14,180.63 L225.74,181.01 L226.33,181.40 L226.93,181.79 L227.53,182.18 L228.12,182.57 L228.72,182.96 L229.31,183.35 L229.91,183.74 L230.50,184.14 L231.09,184.53 L231.68,184.93 L232.27,185.33 L232.86,185.73 L233.45,186.13 L234.04,186.53 L234.63,186.93 L235.22,187.34 L235.80,187.74 L236.39,188.15 L236.97,188.55 L237.56,188.96 L238.14,189.37 L238.72,189.78 L239.30,190.20 L239.88,190.61 L240.46,191.03 L241.04,191.44 L241.61,191.86 L242.19,192.28 L242.76,192.70 L243.34,193.12 L243.91,193.54 L244.48,193.97 L245.05,194.39 L245.62,194.82 L246.19,195.25 L246.75,195.68 L247.32,196.11 L247.88,196.54 L248.45,196.98 L249.01,197.41 L249.57,197.85 L250.13,198.29 L250.69,198.72 L251.24,199.17 L251.80,199.61 L252.35,200.05 L252.91,200.50 L253.46,200.94 L254.01,201.39 L254.56,201.84 L255.10,202.29 L255.65,202.74 L256.19,203.20 L256.74,203.65 L257.28,204.11 L257.82,204.57 L258.36,205.03 L258.89,205.49 L259.43,205.95 L259.96,206.42 L260.49,206.88 L261.02,207.35 L261.55,207.82 L262.08,208.29 L262.61,208.76 L263.13,209.24 L263.65,209.71 L264.17,210.19 L264.69,210.67 L265.21,211.15 L265.72,211.63 L266.24,212.11 L266.75,212.60 L267.26,213.09 L267.77,213.57 L268.27,214.06 L268.78,214.56 L269.28,215.05 L269.78,215.55 L270.28,216.04 L270.78,216.54 L271.27,217.04 L271.77,217.54 L272.26,218.05 L272.75,218.55 L273.23,219.06 L273.72,219.57 L274.20,220.08 L274.68,220.59 L275.16,221.11 L275.64,221.62 L276.11,222.14 L276.59,222.66 L277.06,223.18 L277.53,223.70 L277.99,224.23 L278.46,224.76 L278.92,225.29 L279.38,225.82 L279.84,226.35 L280.29,226.88 L280.74,227.42 L281.19,227.96 L281.64,228.50 L282.09,229.04 L282.53,229.58 L282.97,230.13 L283.41,230.67 L283.85,231.22 L284.28,231.78 L284.72,232.33 L285.14,232.88 L285.57,233.44 L286.00,234.00 L286.42,234.56 L286.84,235.12 L287.25,235.69 L287.67,236.26 L288.08,236.82 L288.49,237.40 L288.90,237.97 L289.30,238.54 L289.70,239.12 L290.10,239.70 L290.50,240.28 L290.89,240.86 L291.28,241.45 L291.67,242.04 L292.06,242.63 L292.44,243.22 L292.82,243.81 L293.20,244.41 L293.57,245.00 L293.94,245.60 L294.31,246.21 L294.68,246.81 L295.04,247.42 L295.40,248.02 L295.76,248.63 L296.11,249.25 L296.46,249.86 L296.81,250.48 L297.16,251.10 L297.50,251.72 L297.84,252.34 L298.18,252.97 L298.51,253.59 L298.84,254.22 L299.17,254.86 L299.50,255.49 L299.82,256.13 L300.14,256.77 L300.45,257.41 L300.76,258.05 L301.07,258.70 L301.38,259.35 L301.68,260.00 L301.98,260.65 L302.28,261.30 L302.57,261.96 L302.86,262.62 L303.15,263.28 L303.43,263.95 L303.71,264.61 L303.99,265.28 L304.26,265.95 L304.53,266.63 L304.80,267.30 L305.06,267.98 L305.32,268.66 L305.58,269.34 L305.83,270.03" stroke="#e27a3c" stroke-width="0.97" stroke-dasharray="2.9,3.4"/>
<path d="M112.44,62.08 L112.62,62.76 L112.80,63.44 L112.99,64.11 L113.20,64.78 L113.42,65.44 L113.65,66.10 L113.88,66.76 L114.13,67.41 L114.39,68.06 L114.66,68.71 L114.94,69.35 L115.23,69.98 L115.53,70.61 L115.84,71.24 L116.16,71.87 L116.49,72.49 L116.82,73.11 L117.17,73.72 L117.52,74.33 L117.88,74.94 L118.25,75.54 L118.63,76.14 L119.01,76.73 L119.41,77.32 L119.81,77.91 L120.22,78.50 L120.63,79.08 L121.05,79.66 L121.48,80.23 L121.92,80.80 L122.36,81.37 L122.81,81.94 L123.26,82.50 L123.72,83.06 L124.19,83.61 L124.66,84.16 L125.14,84.71 L125.62,85.26 L126.10,85.80 L126.60,86.34 L127.09,86.88 L127.59,87.42 L128.10,87.95 L128.61,88.48 L129.12,89.00 L129.63,89.53 L130.15,90.05 L130.68,90.57 L131.20,91.08 L131.73,91.59 L132.27,92.11 L132.80,92.61 L133.34,93.12 L133.88,93.62 L134.42,94.12 L134.97,94.62 L135.52,95.12 L136.07,95.61 L136.62,96.10 L137.18,96.59 L137.74,97.08 L138.30,97.56 L138.86,98.05 L139.43,98.53 L140.00,99.00 L140.57,99.48 L141.14,99.96 L141.71,100.43 L142.29,100.90 L142.87,101.37 L143.44,101.83 L144.03,102.30 L144.61,102.76 L145.19,103.22 L145.78,103.68 L146.37,104.14 L146.95,104.60 L147.54,105.05 L148.14,105.51 L148.73,105.96 L149.32,106.41 L149.92,106.86 L150.51,107.31 L151.11,107.75 L151.71,108.20 L152.31,108.64 L152.91,109.08 L153.51,109.53 L154.11,109.97 L154.71,110.40 L155.31,110.84 L155.91,111.28 L156.52,111.71 L157.12,112.15 L157.73,112.58 L158.33,113.01 L158.93,113.45 L159.54,113.88 L160.14,114.31 L160.75,114.74 L161.36,115.16 L161.96,115.59 L162.57,116.02 L163.17,116.45 L163.78,116.87 L164.38,117.30 L164.99,117.72 L165.59,118.14 L166.20,118.57 L166.80,118.99 L167.41,119.41 L168.01,119.83 L168.62,120.25 L169.22,120.67 L169.82,121.09 L170.43,121.51 L171.03,121.93 L171.64,122.35 L172.24,122.76 L172.85,123.18 L173.45,123.60 L174.06,124.01 L174.66,124.43 L175.26,124.85 L175.87,125.26 L176.47,125.68 L177.07,126.09 L177.68,126.51 L178.28,126.92 L178.88,127.33 L179.49,127.75 L180.09,128.16 L180.69,128.57 L181.30,128.99 L181.90,129.40 L182.50,129.81 L183.10,130.23 L183.70,130.64 L184.31,131.05 L184.91,131.46 L185.51,131.88 L186.11,132.29 L186.71,132.70 L187.31,133.11 L187.91,133.53 L188.51,133.94 L189.11,134.35 L189.71,134.76 L190.31,135.18 L190.91,135.59 L191.51,136.00 L192.11,136.42 L192.71,136.83 L193.31,137.24 L193.90,137.66 L194.50,138.07 L195.10,138.48 L195.70,138.90 L196.29,139.31 L196.89,139.73 L197.49,140.14 L198.08,140.56 L198.68,140.98 L199.27,141.39 L199.87,141.81 L200.46,142.23 L201.06,142.64 L201.65,143.06 L202.25,143.48 L202.84,143.90 L203.43,144.32 L204.03,144.74 L204.62,145.16 L205.21,145.58 L205.80,146.00 L206.39,146.42 L206.99,146.85 L207.58,147.27 L208.17,147.70 L208.76,148.12 L209.35,148.55 L209.93,148.97 L210.52,149.40 L211.11,149.83 L211.70,150.26 L212.29,150.68 L212.87,151.11 L213.46,151.55 L214.05,151.98 L214.63,152.41 L215.22,152.84 L215.80,153.28 L216.39,153.71 L216.97,154.15 L217.56,154.58 L218.14,155.02 L218.72,155.46 L219.30,155.90 L219.89,156.34 L220.47,156.78 L221.05,157.23 L221.63,157.67 L222.21,158.12 L222.79,158.56 L223.37,159.01 L223.94,159.46 L224.52,159.91 L225.10,160.36 L225.67,160.81 L226.25,161.26 L226.83,161.72 L227.40,162.17 L227.97,162.63 L228.55,163.09 L229.12,163.54 L229.69,164.00 L230.26,164.46 L230.83,164.93 L231.40,165.39 L231.97,165.85 L232.54,166.32 L233.11,166.78 L233.68,167.25 L234.24,167.72 L234.81,168.19 L235.37,168.66 L235.94,169.13 L236.50,169.61 L237.06,170.08 L237.62,170.56 L238.18,171.03 L238.74,171.51 L239.30,171.99 L239.86,172.47 L240.42,172.95 L240.97,173.43 L241.53,173.92 L242.08,174.40 L242.63,174.89 L243.18,175.38 L243.73,175.87 L244.28,176.36 L244.83,176.85 L245.38,177.34 L245.93,177.83 L246.47,178.33 L247.02,178.82 L247.56,179.32 L248.10,179.82 L248.64,180.32 L249.18,180.82 L249.72,181.32 L250.26,181.82 L250.79,182.33 L251.33,182.83 L251.86,183.34 L252.40,183.85 L252.93,184.36 L253.46,184.87 L253.99,185.38 L254.51,185.89 L255.04,186.41 L255.56,186.93 L256.09,187.44 L256.61,187.96 L257.13,188.48 L257.65,189.00 L258.17,189.52 L258.68,190.05 L259.20,190.57 L259.71,191.10 L260.22,191.62 L260.74,192.15 L261.24,192.68 L261.75,193.21 L262.26,193.75 L262.76,194.28 L263.27,194.81 L263.77,195.35 L264.27,195.89 L264.77,196.43 L265.26,196.97 L265.76,197.51 L266.25,198.05 L266.74,198.60 L267.23,199.14 L267.72,199.69 L268.21,200.24 L268.70,200.79 L269.18,201.34 L269.66,201.89 L270.14,202.44 L270.62,203.00 L271.10,203.55 L271.57,204.11 L272.04,204.67 L272.52,205.23 L272.99,205.79 L273.45,206.35 L273.92,206.92 L274.38,207.48 L274.85,208.05 L275.31,208.62 L275.76,209.19 L276.22,209.76 L276.67,210.33 L277.13,210.91 L277.58,211.48 L278.03,212.06 L278.47,212.64 L278.92,213.22 L279.36,213.80 L279.80,214.38 L280.24,214.96 L280.68,215.55 L281.11,216.14 L281.54,216.72 L281.97,217.31 L282.40,217.90 L282.83,218.50 L283.25,219.09 L283.67,219.69 L284.09,220.28 L284.51,220.88 L284.93,221.48 L285.34,222.08 L285.75,222.68 L286.16,223.29 L286.56,223.89 L286.97,224.50 L287.37,225.11 L287.77,225.72 L288.17,226.33 L288.56,226.94 L288.95,227.55 L289.34,228.17 L289.73,228.79 L290.12,229.40 L290.50,230.02 L290.88,230.64 L291.26,231.27 L291.64,231.89 L292.01,232.52 L292.38,233.14 L292.75,233.77 L293.12,234.40 L293.48,235.04 L293.84,235.67 L294.20,236.30 L294.55,236.94 L294.91,237.58 L295.26,238.22 L295.61,238.86 L295.95,239.50 L296.30,240.14 L296.64,240.79 L296.97,241.44 L297.31,242.08 L297.64,242.73 L297.97,243.39 L298.30,244.04 L298.62,244.69 L298.94,245.35 L299.26,246.01 L299.58,246.67 L299.89,247.33 L300.20,247.99 L300.51,248.65 L300.82,249.32 L301.12,249.98 L301.42,250.65 L301.71,251.32 L302.01,251.99 L302.30,252.67 L302.59,253.34 L302.87,254.02 L303.15,254.70 L303.43,255.38 L303.71,256.06 L303.98,256.74 L304.25,257.43 L304.52,258.11 L304.79,258.80 L305.05,259.49 L305.31,260.18 L305.56,260.87 L305.81,261.56 L306.06,262.26 L306.31,262.96 L306.55,263.66 L306.79,264.36 L307.03,265.06 L307.26,265.76 L307.49,266.47 L307.72,267.17 L307.94,267.88 L308.16,268.59 L308.38,269.31 L308.60,270.02" stroke="#00ee00" stroke-width="0.97" stroke-dasharray="4.2,3.4,1.6,3.4"/>
<path d="M127.22,13.50 L127.49,14.14 L127.76,14.79 L128.04,15.43 L128.32,16.07 L128.61,16.71 L128.90,17.35 L129.19,17.99 L129.49,18.63 L129.79,19.27 L130.10,19.91 L130.41,20.55 L130.72,21.19 L131.04,21.83 L131.36,22.47 L131.68,23.10 L132.01,23.74 L132.34,24.38 L132.67,25.01 L133.01,25.65 L133.35,26.28 L133.70,26.92 L134.04,27.55 L134.40,28.18 L134.75,28.81 L135.11,29.44 L135.47,30.07 L135.84,30.69 L136.21,31.32 L136.58,31.94 L136.96,32.57 L137.33,33.19 L137.72,33.81 L138.10,34.43 L138.49,35.05 L138.88,35.66 L139.28,36.27 L139.68,36.89 L140.08,37.50 L140.48,38.11 L140.89,38.71 L141.30,39.32 L141.72,39.92 L142.14,40.52 L142.56,41.12 L142.98,41.72 L143.41,42.31 L143.84,42.90 L144.27,43.49 L144.71,44.08 L145.14,44.66 L145.59,45.25 L146.03,45.83 L146.48,46.41 L146.93,46.98 L147.38,47.55 L147.84,48.12 L148.30,48.69 L148.76,49.25 L149.22,49.81 L149.69,50.37 L150.16,50.93 L150.63,51.48 L151.11,52.03 L151.58,52.58 L152.06,53.12 L152.55,53.66 L153.03,54.20 L153.52,54.73 L154.01,55.26 L154.51,55.79 L155.00,56.32 L155.50,56.84 L156.00,57.36 L156.51,57.88 L157.01,58.39 L157.52,58.90 L158.03,59.41 L158.54,59.92 L159.06,60.42 L159.58,60.92 L160.10,61.42 L160.62,61.91 L161.14,62.40 L161.67,62.89 L162.20,63.38 L162.73,63.86 L163.26,64.35 L163.80,64.82 L164.33,65.30 L164.87,65.77 L165.41,66.25 L165.96,66.71 L166.50,67.18 L167.05,67.64 L167.60,68.11 L168.15,68.56 L168.71,69.02 L169.26,69.47 L169.82,69.92 L170.38,70.37 L170.94,70.82 L171.50,71.26 L172.06,71.71 L172.63,72.15 L173.20,72.58 L173.77,73.02 L174.34,73.45 L174.91,73.88 L175.49,74.31 L176.06,74.73 L176.64,75.16 L177.22,75.58 L177.80,76.00 L178.38,76.42 L178.97,76.83 L179.55,77.24 L180.14,77.65 L180.73,78.06 L181.32,78.47 L181.91,78.87 L182.50,79.28 L183.10,79.68 L183.69,80.08 L184.29,80.47 L184.89,80.87 L185.49,81.26 L186.09,81.65 L186.69,82.04 L187.29,82.43 L187.89,82.81 L188.50,83.20 L189.10,83.58 L189.71,83.96 L190.32,84.33 L190.93,84.71 L191.54,85.08 L192.15,85.46 L192.76,85.83 L193.38,86.20 L193.99,86.56 L194.61,86.93 L195.22,87.29 L195.84,87.66 L196.46,88.02 L197.08,88.38 L197.70,88.73 L198.32,89.09 L198.94,89.44 L199.56,89.80 L200.18,90.15 L200.80,90.50 L201.43,90.85 L202.05,91.19 L202.68,91.54 L203.30,91.88 L203.93,92.22 L204.56,92.56 L205.19,92.90 L205.82,93.24 L206.45,93.58 L207.08,93.91 L207.71,94.25 L208.34,94.58 L208.97,94.91 L209.60,95.24 L210.24,95.57 L210.87,95.90 L211.51,96.22 L212.14,96.55 L212.78,96.87 L213.42,97.19 L214.06,97.51 L214.69,97.83 L215.33,98.15 L215.97,98.47 L216.61,98.78 L217.26,99.09 L217.90,99.41 L218.54,99.72 L219.18,100.03 L219.83,100.34 L220.47,100.65 L221.12,100.96 L221.76,101.26 L222.41,101.57 L223.06,101.87 L223.70,102.17 L224.35,102.48 L225.00,102.78 L225.65,103.08 L226.30,103.37 L226.95,103.67 L227.60,103.97 L228.25,104.26 L228.90,104.56 L229.56,104.85 L230.21,105.14 L230.86,105.43 L231.52,105.72 L232.17,106.01 L232.83,106.30 L233.49,106.59 L234.14,106.88 L234.80,107.16 L235.46,107.45 L236.12,107.73 L236.78,108.02 L237.44,108.30 L238.10,108.58 L238.76,108.86 L239.42,109.14 L240.08,109.42 L240.74,109.70 L241.40,109.97 L242.07,110.25 L242.73,110.53 L243.39,110.80 L244.06,111.08 L244.72,111.35 L245.39,111.62 L246.06,111.90 L246.72,112.17 L247.39,112.44 L248.06,112.71 L248.73,112.98 L249.39,113.25 L250.06,113.52 L250.73,113.78 L251.40,114.05 L252.07,114.32 L252.74,114.58 L253.42,114.85 L254.09,115.11 L254.76,115.38 L255.43,115.64 L256.11,115.90 L256.78,116.17 L257.45,116.43 L258.13,116.69 L258.80,116.95 L259.48,117.21 L260.15,117.47 L260.83,117.73 L261.51,117.99 L262.18,118.25 L262.86,118.51 L263.54,118.77 L264.22,119.02 L264.89,119.28 L265.57,119.54 L266.25,119.80 L266.93,120.05 L267.61,120.31 L268.29,120.56 L268.97,120.82 L269.65,121.07 L270.33,121.33 L271.02,121.58 L271.70,121.84 L272.38,122.09 L273.06,122.34 L273.75,122.60 L274.43,122.85 L275.11,123.10 L275.80,123.35 L276.48,123.60 L277.17,123.85 L277.85,124.10 L278.54,124.35 L279.22,124.60 L279.91,124.84 L280.60,125.09 L281.28,125.33 L281.97,125.58 L282.66,125.82 L283.34,126.06 L284.03,126.30 L284.72,126.54 L285.41,126.78 L286.10,127.01 L286.79,127.25 L287.48,127.48 L288.17,127.71 L288.85,127.94 L289.54,128.17 L290.24,128.40 L290.93,128.62 L291.62,128.85 L292.31,129.07 L293.00,129.29 L293.69,129.51 L294.38,129.73 L295.07,129.94 L295.77,130.16 L296.46,130.37 L297.15,130.58 L297.84,130.78 L298.54,130.99 L299.23,131.19 L299.92,131.39 L300.62,131.59 L301.31,131.79 L302.00,131.99 L302.70,132.18 L303.39,132.37 L304.09,132.56 L304.78,132.75 L305.48,132.94 L306.17,133.13 L306.87,133.31 L307.56,133.49 L308.26,133.67 L308.96,133.85 L309.65,134.03 L310.35,134.21 L311.04,134.39 L311.74,134.56 L312.44,134.73 L313.13,134.91 L313.83,135.08 L314.53,135.25 L315.22,135.42 L315.92,135.58 L316.62,135.75 L317.32,135.92 L318.01,136.08 L318.71,136.25 L319.41,136.41 L320.11,136.57 L320.80,136.74 L321.50,136.90 L322.20,137.06 L322.90,137.22 L323.60,137.38 L324.29,137.54 L324.99,137.70 L325.69,137.85 L326.39,138.01 L327.09,138.17 L327.79,138.32 L328.49,138.48 L329.18,138.64 L329.88,138.79 L330.58,138.95 L331.28,139.10 L331.98,139.26 L332.68,139.41 L333.38,139.57 L334.08,139.72 L334.78,139.88 L335.48,140.03 L336.17,140.18 L336.87,140.34 L337.57,140.49 L338.27,140.65 L338.97,140.80 L339.67,140.95 L340.37,141.11 L341.07,141.26 L341.77,141.42 L342.47,141.57 L343.17,141.73 L343.86,141.88 L344.56,142.04 L345.26,142.19 L345.96,142.35 L346.66,142.50 L347.36,142.66 L348.06,142.82 L348.76,142.97 L349.46,143.13 L350.15,143.29 L350.85,143.45 L351.55,143.60 L352.25,143.76 L352.95,143.92 L353.65,144.08 L354.34,144.24 L355.04,144.41 L355.74,144.57 L356.44,144.73 L357.14,144.90 L357.83,145.06 L358.53,145.22 L359.23,145.39 L359.93,145.56 L360.63,145.72 L361.32,145.89 L362.02,146.06 L362.72,146.23 L363.41,146.40 L364.11,146.57 L364.81,146.75 L365.50,146.92 L366.20,147.10 L366.90,147.27 L367.59,147.45 L368.29,147.63 L368.98,147.81" stroke="#000000" stroke-width="1.18" stroke-dasharray="0.2,2.95" stroke-linecap="round"/>
</g>
<path d="M112.50,270.0 v-4.0 M112.50,13.5 v4.0 M133.88,270.0 v-2.0 M133.88,13.5 v2.0 M155.25,270.0 v-2.0 M155.25,13.5 v2.0 M176.62,270.0 v-2.0 M176.62,13.5 v2.0 M198.00,270.0 v-4.0 M198.00,13.5 v4.0 M219.38,270.0 v-2.0 M219.38,13.5 v2.0 M240.75,270.0 v-2.0 M240.75,13.5 v2.0 M262.12,270.0 v-2.0 M262.12,13.5 v2.0 M283.50,270.0 v-4.0 M283.50,13.5 v4.0 M304.88,270.0 v-2.0 M304.88,13.5 v2.0 M326.25,270.0 v-2.0 M326.25,13.5 v2.0 M347.62,270.0 v-2.0 M347.62,13.5 v2.0 M369.00,270.0 v-4.0 M369.00,13.5 v4.0 M112.5,13.50 h4.0 M369.0,13.50 h-4.0 M112.5,49.36 h2.0 M369.0,49.36 h-2.0 M112.5,40.32 h2.0 M369.0,40.32 h-2.0 M112.5,33.91 h2.0 M369.0,33.91 h-2.0 M112.5,28.94 h2.0 M369.0,28.94 h-2.0 M112.5,24.88 h2.0 M369.0,24.88 h-2.0 M112.5,21.45 h2.0 M369.0,21.45 h-2.0 M112.5,18.47 h2.0 M369.0,18.47 h-2.0 M112.5,15.85 h2.0 M369.0,15.85 h-2.0 M112.5,64.80 h4.0 M369.0,64.80 h-4.0 M112.5,100.66 h2.0 M369.0,100.66 h-2.0 M112.5,91.62 h2.0 M369.0,91.62 h-2.0 M112.5,85.21 h2.0 M369.0,85.21 h-2.0 M112.5,80.24 h2.0 M369.0,80.24 h-2.0 M112.5,76.18 h2.0 M369.0,76.18 h-2.0 M112.5,72.75 h2.0 M369.0,72.75 h-2.0 M112.5,69.77 h2.0 M369.0,69.77 h-2.0 M112.5,67.15 h2.0 M369.0,67.15 h-2.0 M112.5,116.10 h4.0 M369.0,116.10 h-4.0 M112.5,151.96 h2.0 M369.0,151.96 h-2.0 M112.5,142.92 h2.0 M369.0,142.92 h-2.0 M112.5,136.51 h2.0 M369.0,136.51 h-2.0 M112.5,131.54 h2.0 M369.0,131.54 h-2.0 M112.5,127.48 h2.0 M369.0,127.48 h-2.0 M112.5,124.05 h2.0 M369.0,124.05 h-2.0 M112.5,121.07 h2.0 M369.0,121.07 h-2.0 M112.5,118.45 h2.0 M369.0,118.45 h-2.0 M112.5,167.40 h4.0 M369.0,167.40 h-4.0 M112.5,203.26 h2.0 M369.0,203.26 h-2.0 M112.5,194.22 h2.0 M369.0,194.22 h-2.0 M112.5,187.81 h2.0 M369.0,187.81 h-2.0 M112.5,182.84 h2.0 M369.0,182.84 h-2.0 M112.5,178.78 h2.0 M369.0,178.78 h-2.0 M112.5,175.35 h2.0 M369.0,175.35 h-2.0 M112.5,172.37 h2.0 M369.0,172.37 h-2.0 M112.5,169.75 h2.0 M369.0,169.75 h-2.0 M112.5,218.70 h4.0 M369.0,218.70 h-4.0 M112.5,254.56 h2.0 M369.0,254.56 h-2.0 M112.5,245.52 h2.0 M369.0,245.52 h-2.0 M112.5,239.11 h2.0 M369.0,239.11 h-2.0 M112.5,234.14 h2.0 M369.0,234.14 h-2.0 M112.5,230.08 h2.0 M369.0,230.08 h-2.0 M112.5,226.65 h2.0 M369.0,226.65 h-2.0 M112.5,223.67 h2.0 M369.0,223.67 h-2.0 M112.5,221.05 h2.0 M369.0,221.05 h-2.0 M112.5,270.00 h4.0 M369.0,270.00 h-4.0" stroke="#000" stroke-width="0.8" fill="none"/>
<rect x="112.5" y="13.5" width="256.5" height="256.5" fill="none" stroke="#000" stroke-width="1"/>
<g transform="translate(114.00,284.90)"><text x="-3.14" y="0.00" font-size="11.30">0</text></g>
<g transform="translate(199.50,284.90)"><text x="-12.57" y="0.00" font-size="11.30">2000</text></g>
<g transform="translate(285.00,284.90)"><text x="-12.57" y="0.00" font-size="11.30">4000</text></g>
<g transform="translate(370.50,284.90)"><text x="-12.57" y="0.00" font-size="11.30">6000</text></g>
<g transform="translate(105.60,18.50)"><text x="-17.60" y="0.00" font-size="11.30">10</text><text x="-5.03" y="-5.99" font-size="9.04">2</text></g>
<g transform="translate(105.60,69.80)"><text x="-17.60" y="0.00" font-size="11.30">10</text><text x="-5.03" y="-5.99" font-size="9.04">1</text></g>
<g transform="translate(105.60,121.10)"><text x="-17.60" y="0.00" font-size="11.30">10</text><text x="-5.03" y="-5.99" font-size="9.04">0</text></g>
<g transform="translate(105.60,172.40)"><text x="-20.61" y="0.00" font-size="11.30">10</text><text x="-8.04" y="-5.99" font-size="9.04">-1</text></g>
<g transform="translate(105.60,223.70)"><text x="-20.61" y="0.00" font-size="11.30">10</text><text x="-8.04" y="-5.99" font-size="9.04">-2</text></g>
<g transform="translate(105.60,275.00)"><text x="-20.61" y="0.00" font-size="11.30">10</text><text x="-8.04" y="-5.99" font-size="9.04">-3</text></g>
<g transform="translate(215.00,300.30)"><text x="0.00" y="0.00" font-size="12.30">E</text><text x="7.98" y="3.69" font-size="10.63">μ</text><text x="13.87" y="0.00" font-size="12.30"> (GeV)</text></g>
<g transform="translate(78.00,209.30) rotate(-90)"><text x="0.00" y="0.00" font-size="12.30">d</text><text x="6.60" y="0.00" font-size="12.30">ϕ</text><text x="13.25" y="0.00" font-size="12.30">/dE</text><text x="31.48" y="3.69" font-size="10.63">μ</text><text x="37.38" y="0.00" font-size="12.30"> (GeV</text><text x="69.50" y="-8.49" font-size="9.84">-1</text><text x="78.95" y="0.00" font-size="12.30"> km</text><text x="98.77" y="-8.49" font-size="9.84">-2</text><text x="108.22" y="0.00" font-size="12.30"> yr</text><text x="121.88" y="-8.49" font-size="9.84">-1</text><text x="131.23" y="0.00" font-size="12.30">)</text></g>
<g transform="translate(317.90,26.90)"><text x="-46.78" y="0.00" font-size="11.30">DM </text><path d="M-25.62,-2.77 H-15.22 M-18.16,-4.35 Q-16.69,-3.16 -15.22,-2.77 Q-16.69,-2.37 -18.16,-1.19" stroke="#000" stroke-width="0.65" fill="none"/><text x="-14.91" y="0.00" font-size="11.30"> </text><text x="-11.54" y="0.00" font-size="10.85">ν</text><text x="-5.66" y="0.00" font-size="10.85">ν</text></g>
<path d="M324.4,23.00 H355.6" stroke="#ff0000" stroke-width="1.5" stroke-opacity="0.54" fill="none"/>
<g transform="translate(317.90,38.13)"><text x="-47.80" y="0.00" font-size="11.30">DM </text><path d="M-26.63,-2.77 H-16.23 M-19.17,-4.35 Q-17.70,-3.16 -16.23,-2.77 Q-17.70,-2.37 -19.17,-1.19" stroke="#000" stroke-width="0.65" fill="none"/><text x="-15.93" y="0.00" font-size="11.30"> Z</text><text x="-5.66" y="0.00" font-size="10.85">ν</text></g>
<path d="M324.4,34.23 H355.6" stroke="#ff9900" stroke-width="1.5" stroke-opacity="0.54" fill="none" stroke-dasharray="3,2,3,7.15"/>
<g transform="translate(317.90,49.36)"><text x="-101.98" y="0.00" font-size="11.30">DM </text><path d="M-80.82,-2.77 H-70.42 M-73.36,-4.35 Q-71.89,-3.16 -70.42,-2.77 Q-71.89,-2.37 -73.36,-1.19" stroke="#000" stroke-width="0.65" fill="none"/><text x="-70.11" y="0.00" font-size="11.30"> ee</text><text x="-54.17" y="0.00" font-size="10.85">ν</text><text x="-48.52" y="0.00" font-size="11.30"> (</text><text x="-41.88" y="0.00" font-size="12.20">μ</text><text x="-35.37" y="0.00" font-size="12.20">μ</text><text x="-28.37" y="0.00" font-size="10.85">ν</text><text x="-22.71" y="0.00" font-size="11.30">/</text><text x="-19.50" y="0.00" font-size="12.20">τ</text><text x="-14.54" y="0.00" font-size="12.20">τ</text><text x="-9.42" y="0.00" font-size="10.85">ν</text><text x="-3.76" y="0.00" font-size="11.30">)</text></g>
<path d="M324.4,45.46 H355.6" stroke="#00aaff" stroke-width="1.5" stroke-opacity="0.54" fill="none" stroke-dasharray="1.5,2.3,7.8,2.3,1.5,2.2"/>
<g transform="translate(317.90,60.59)"><text x="-68.61" y="0.00" font-size="11.30">DM </text><path d="M-47.45,-2.77 H-37.05 M-39.99,-4.35 Q-38.52,-3.16 -37.05,-2.77 Q-38.52,-2.37 -39.99,-1.19" stroke="#000" stroke-width="0.65" fill="none"/><text x="-36.74" y="0.00" font-size="11.30"> </text><text x="-33.87" y="0.00" font-size="12.20">μ</text><text x="-27.36" y="0.00" font-size="12.20">μ</text><text x="-20.59" y="0.00" font-size="11.30"> (</text><text x="-13.61" y="0.00" font-size="12.20">τ</text><text x="-8.65" y="0.00" font-size="12.20">τ</text><text x="-3.76" y="0.00" font-size="11.30">)</text></g>
<path d="M324.4,56.69 H355.6" stroke="#0000ff" stroke-width="1.5" stroke-opacity="0.54" fill="none" stroke-dasharray="5.4,2.16"/>
<g transform="translate(317.90,71.82)"><text x="-80.81" y="0.00" font-size="11.30">DM </text><path d="M-59.64,-2.77 H-49.25 M-52.18,-4.35 Q-50.72,-3.16 -49.25,-2.77 Q-50.72,-2.37 -52.18,-1.19" stroke="#000" stroke-width="0.65" fill="none"/><text x="-48.94" y="0.00" font-size="11.30"> ZZ (WW)</text></g>
<path d="M324.4,67.92 H355.6" stroke="#228b22" stroke-width="1.5" stroke-opacity="0.54" fill="none" stroke-dasharray="7.9,2.2,1.5,2.25"/>
<g transform="translate(317.90,83.05)"><text x="-51.96" y="0.00" font-size="11.30">DM </text><path d="M-30.79,-2.77 H-20.39 M-23.33,-4.35 Q-21.86,-3.16 -20.39,-2.77 Q-21.86,-2.37 -23.33,-1.19" stroke="#000" stroke-width="0.65" fill="none"/><text x="-20.09" y="0.00" font-size="11.30"> We</text></g>
<path d="M324.4,79.15 H355.6" stroke="#e27a3c" stroke-width="1.5" stroke-opacity="0.54" fill="none" stroke-dasharray="2.9,3.4"/>
<g transform="translate(317.90,94.28)"><text x="-78.47" y="0.00" font-size="11.30">DM </text><path d="M-57.31,-2.77 H-46.91 M-49.85,-4.35 Q-48.38,-3.16 -46.91,-2.77 Q-48.38,-2.37 -49.85,-1.19" stroke="#000" stroke-width="0.65" fill="none"/><text x="-46.61" y="0.00" font-size="11.30"> W</text><text x="-33.06" y="0.00" font-size="12.20">μ</text><text x="-26.29" y="0.00" font-size="11.30"> (W</text><text x="-8.65" y="0.00" font-size="12.20">τ</text><text x="-3.76" y="0.00" font-size="11.30">)</text></g>
<path d="M324.4,90.38 H355.6" stroke="#00ee00" stroke-width="1.5" stroke-opacity="0.54" fill="none" stroke-dasharray="4.2,3.4,1.6,3.4"/>
<g transform="translate(317.90,105.51)"><text x="-61.55" y="0.00" font-size="11.30">atmospheric</text></g>
<path d="M325.0,101.61 H355.6" stroke="#000000" stroke-width="1.3" stroke-linecap="round" fill="none" stroke-dasharray="0.2,2.95"/>
<g transform="translate(146.30,227.60)"><text x="0.00" y="0.00" font-size="11.30">through-going muons</text></g>
<g transform="translate(134.00,249.70)"><text x="0.00" y="0.00" font-size="11.30">m</text><text x="9.41" y="3.39" font-size="9.04">DM</text><text x="23.47" y="0.00" font-size="11.30"> = 10 TeV ,  </text><text x="85.41" y="0.00" font-size="12.20">τ</text><text x="90.30" y="3.39" font-size="9.04">DM</text><text x="103.86" y="0.00" font-size="11.30"> = 10</text><text x="128.91" y="-6.55" font-size="9.04">26</text><text x="138.96" y="0.00" font-size="11.30"> s</text></g>
</svg>
</body></html>
